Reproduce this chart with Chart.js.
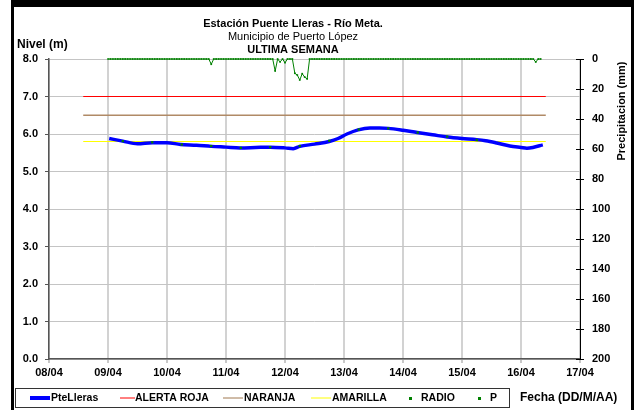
<!DOCTYPE html>
<html>
<head>
<meta charset="utf-8">
<script src="https://cdn.jsdelivr.net/npm/chart.js@4.4.0/dist/chart.umd.min.js"></script>
<style>
  html, body { margin: 0; padding: 0; background: #fff; }
  #wrap { width: 634px; height: 410px; position: relative; }
</style>
</head>
<body>
<div id="wrap"><canvas id="chart" width="634" height="410"></canvas></div>
<script>
// x axis is in days counted from 08/04 00:00
const dayLabels = ['08/04', '09/04', '10/04', '11/04', '12/04', '13/04', '14/04', '15/04', '16/04', '17/04'];

// PteLleras level (m)
const levelDays = [1.02, 1.25, 1.5, 1.75, 2.0, 2.23, 2.5, 2.75, 3.0, 3.24, 3.5, 3.75, 4.0, 4.14, 4.25, 4.5, 4.75, 4.9,
  5.05, 5.24, 5.44, 5.6, 5.75, 6.0, 6.24, 6.5, 6.75, 7.0, 7.25, 7.4, 7.59, 7.81, 8.0, 8.1, 8.2, 8.37];
const levelValues = [5.88, 5.81, 5.74, 5.77, 5.77, 5.72, 5.70, 5.67, 5.65, 5.63, 5.64, 5.65, 5.63, 5.61, 5.67, 5.73, 5.80, 5.88,
  6.00, 6.11, 6.16, 6.16, 6.15, 6.10, 6.04, 5.98, 5.92, 5.88, 5.85, 5.82, 5.76, 5.68, 5.64, 5.62, 5.64, 5.71];

// RADIO readings (m)
const radioDays = [1.25, 1.75, 2.25, 2.75, 3.25, 3.75, 4.25, 4.75, 5.25, 5.75, 6.25, 6.75, 7.25];
const radioValues = [5.81, 5.78, 5.72, 5.68, 5.63, 5.65, 5.68, 5.82, 6.12, 6.15, 6.04, 5.93, 5.84];

// P: hourly precipitation (mm), zero outside the listed hours
const pFirstHour = 24;
const pLastHour = 200;
const rainHours = [66, 92, 94, 96, 100, 101, 102, 103, 104, 105, 198];
const rainMm = [3.5, 8, 2, 2.5, 9.5, 10.7, 14, 9.8, 12, 13.3, 2];

// alert thresholds (m)
const alertSpan = [0.58, 8.42];
const rojaLevel = 7.0;
const naranjaLevel = 6.5;
const amarillaLevel = 5.8;

const FONT = "'Liberation Sans', Arial, sans-serif";

const levelData = levelDays.map((d, i) => ({ x: d, y: levelValues[i] }));
const radioData = radioDays.map((d, i) => ({ x: d, y: radioValues[i] }));
const pData = [];
for (let h = pFirstHour; h <= pLastHour; h++) {
  const k = rainHours.indexOf(h);
  pData.push({ x: h / 24, y: k >= 0 ? rainMm[k] : 0 });
}
const flat = v => alertSpan.map(d => ({ x: d, y: v }));

const framePlugin = {
  id: 'frame',
  afterDraw(chart) {
    const ctx = chart.ctx;
    const area = chart.chartArea;
    ctx.save();
    // black frame
    ctx.fillStyle = '#000';
    ctx.fillRect(11, 0, 623, 7);
    ctx.fillRect(11, 0, 3, 410);
    ctx.fillRect(631, 0, 3, 410);

    // right axis ticks cross the axis line
    const y2 = chart.scales.y2;
    ctx.strokeStyle = '#000';
    ctx.lineWidth = 1;
    y2.ticks.forEach(t => {
      const py = Math.round(y2.getPixelForValue(t.value)) + 0.5;
      ctx.beginPath();
      ctx.moveTo(area.right - 4, py);
      ctx.lineTo(area.right, py);
      ctx.stroke();
    });

    // titles
    ctx.fillStyle = '#000';
    ctx.textAlign = 'center';
    ctx.textBaseline = 'middle';
    ctx.font = 'bold 11px ' + FONT;
    ctx.fillText('Estación Puente Lleras - Río Meta.', 293, 24);
    ctx.font = '11px ' + FONT;
    ctx.fillText('Municipio de Puerto López', 293, 37);
    ctx.font = 'bold 11px ' + FONT;
    ctx.fillText('ULTIMA SEMANA', 293, 50);

    ctx.textAlign = 'left';
    ctx.font = 'bold 12px ' + FONT;
    ctx.fillText('Nivel (m)', 17, 45);

    ctx.save();
    ctx.translate(622, 111);
    ctx.rotate(-Math.PI / 2);
    ctx.textAlign = 'center';
    ctx.font = 'bold 11px ' + FONT;
    ctx.fillText('Precipitacion (mm)', 0, 0);
    ctx.restore();

    // legend box
    ctx.strokeStyle = '#333';
    ctx.strokeRect(15.5, 388.5, 494, 19);
    const ly = 398;
    const seg = (x0, x1, color, w) => {
      ctx.strokeStyle = color;
      ctx.lineWidth = w;
      ctx.beginPath();
      ctx.moveTo(x0, ly);
      ctx.lineTo(x1, ly);
      ctx.stroke();
    };
    seg(30, 50, '#0000ff', 4);
    seg(120, 135, '#ff0000', 1);
    seg(223, 243, '#a07850', 1);
    seg(311, 331, '#ffff00', 1);
    ctx.fillStyle = '#008000';
    ctx.fillRect(409, ly - 1, 3, 3);
    ctx.fillRect(478, ly - 1, 3, 3);

    ctx.fillStyle = '#000';
    ctx.font = 'bold 10.5px ' + FONT;
    ctx.textAlign = 'left';
    ctx.fillText('PteLleras', 51, ly);
    ctx.fillText('ALERTA ROJA', 135, ly);
    ctx.fillText('NARANJA', 244, ly);
    ctx.fillText('AMARILLA', 332, ly);
    ctx.fillText('RADIO', 421, ly);
    ctx.fillText('P', 490, ly);
    ctx.font = 'bold 12px ' + FONT;
    ctx.fillText('Fecha (DD/M/AA)', 520, ly);
    ctx.restore();
  }
};

const tickFont = { family: FONT, size: 11, weight: 'bold' };

new Chart(document.getElementById('chart'), {
  type: 'line',
  data: {
    datasets: [
      {
        label: 'RADIO', data: radioData, yAxisID: 'y', order: 0,
        showLine: false, pointStyle: 'rect', pointRadius: 1.6,
        pointBackgroundColor: '#008000', pointBorderWidth: 0
      },
      {
        label: 'PteLleras', data: levelData, yAxisID: 'y', order: 1,
        borderColor: '#0000ff', borderWidth: 3.5, pointRadius: 0,
        cubicInterpolationMode: 'monotone'
      },
      {
        label: 'P', data: pData, yAxisID: 'y2', order: 2, clip: 4,
        borderColor: '#008000', borderWidth: 1, pointStyle: 'rect', pointRadius: 1.2,
        pointBackgroundColor: '#008000', pointBorderWidth: 0
      },
      {
        label: 'AMARILLA', data: flat(amarillaLevel), yAxisID: 'y', order: 3,
        borderColor: '#ffff00', borderWidth: 1, pointRadius: 0
      },
      {
        label: 'NARANJA', data: flat(naranjaLevel), yAxisID: 'y', order: 4,
        borderColor: '#b08a66', borderWidth: 1.5, pointRadius: 0
      },
      {
        label: 'ALERTA ROJA', data: flat(rojaLevel), yAxisID: 'y', order: 5,
        borderColor: '#ff0000', borderWidth: 1, pointRadius: 0
      }
    ]
  },
  options: {
    responsive: false,
    animation: false,
    layout: { padding: { top: 59, left: 0, right: 0, bottom: 0 } },
    plugins: { legend: { display: false }, tooltip: { enabled: false } },
    scales: {
      x: {
        type: 'linear', min: 0, max: 9,
        afterFit: s => { s.height = 51; },
        ticks: { stepSize: 1, font: tickFont, color: '#000', padding: 3, maxRotation: 0,
          callback: v => dayLabels[v] },
        grid: { color: '#d2d2d2', lineWidth: 2, tickLength: 4, tickColor: '#c8c8c8' },
        border: { color: '#555', width: 1.5 }
      },
      y: {
        position: 'left', min: 0, max: 8,
        afterFit: s => { s.width = 49; },
        ticks: { stepSize: 1, font: tickFont, color: '#000', padding: 7,
          callback: v => v.toFixed(1) },
        grid: { color: '#c4c4c4', lineWidth: 1, tickLength: 4, tickColor: '#555' },
        border: { color: '#555', width: 1.5 }
      },
      y2: {
        position: 'right', min: 0, max: 200, reverse: true,
        afterFit: s => { s.width = 54; },
        ticks: { stepSize: 20, font: tickFont, color: '#000', padding: 8 },
        grid: { drawOnChartArea: false, tickLength: 4, tickColor: '#000' },
        border: { color: '#000', width: 1 }
      }
    }
  },
  plugins: [framePlugin]
});
</script>
</body>
</html>
